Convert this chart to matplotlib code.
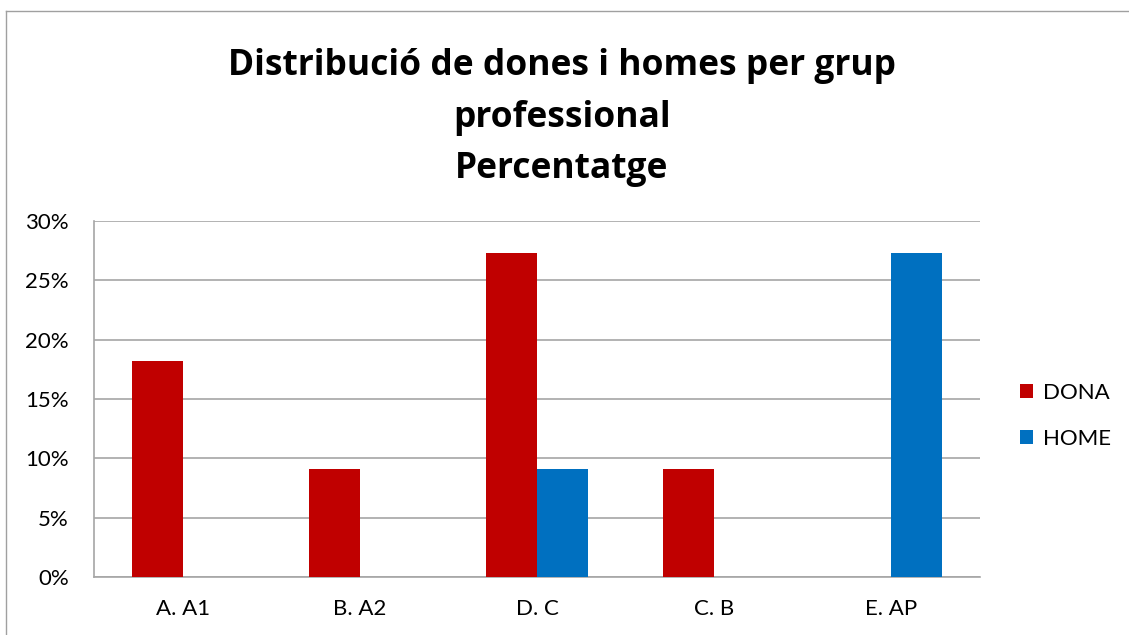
import matplotlib
matplotlib.use("Agg")
import matplotlib.pyplot as plt
from matplotlib.lines import Line2D
from matplotlib.ticker import FuncFormatter
import numpy as np

grups = ["A. A1", "B. A2", "D. C", "C. B", "E. AP"]
dona = [18.2, 9.1, 27.3, 9.1, 0.0]
home = [0.0, 0.0, 9.1, 0.0, 27.3]
titol = ["Distribució de dones i homes per grup", "professional", "Percentatge"]

plt.rcParams['font.family'] = ['Lato', 'DejaVu Sans']

W, H = 1129, 635
fig = plt.figure(figsize=(W / 100, H / 100), dpi=100)
fig.patch.set_facecolor('white')

ax = fig.add_axes([94 / W, 1 - 577 / H, (980 - 94) / W, (577 - 221) / H])

x = np.arange(len(grups))
w = 0.287
ax.bar(x - w / 2, np.array(dona) / 100, w, color='#C00000', label='DONA', zorder=3)
ax.bar(x + w / 2, np.array(home) / 100, w, color='#0070C0', label='HOME', zorder=3)

ax.set_xlim(-0.5, len(grups) - 0.5)
ax.set_ylim(0, 0.30)
ax.set_yticks(np.arange(0, 0.301, 0.05))
ax.yaxis.set_major_formatter(FuncFormatter(lambda v, p: f"{v * 100:.0f}%"))
ax.set_xticks(x)
ax.set_xticklabels(grups)
ax.tick_params(axis='both', length=0, labelsize=16, colors='#000000')
ax.tick_params(axis='y', pad=18)
ax.tick_params(axis='x', pad=16)

ax.grid(axis='y', color='#A6A6A6', linewidth=1.2, zorder=0)
for s in ['top', 'right']:
    ax.spines[s].set_visible(False)
for s in ['left', 'bottom']:
    ax.spines[s].set_color('#A6A6A6')
    ax.spines[s].set_linewidth(1.2)

# titol en tres línies
baselines = [75, 127, 178]
for t, b in zip(titol, baselines):
    fig.text(562 / W, 1 - b / H, t, ha='center', va='baseline',
             fontsize=25.5, fontweight='bold', family=['Open Sans', 'DejaVu Sans'])

fig.legend(loc='center left', bbox_to_anchor=(1000 / W, 1 - 416 / H),
           frameon=False, fontsize=16, handlelength=0.6, handleheight=0.6,
           handletextpad=0.45, labelspacing=1.15)

# vora del gràfic (només esquerra i dalt visibles)
fig.add_artist(Line2D([6 / W, 6 / W], [0, 1 - 11 / H], transform=fig.transFigure,
                      color='#A0A0A0', linewidth=1))
fig.add_artist(Line2D([6 / W, 1], [1 - 11 / H, 1 - 11 / H], transform=fig.transFigure,
                      color='#A0A0A0', linewidth=1))

fig.savefig("out.png", dpi=100)
